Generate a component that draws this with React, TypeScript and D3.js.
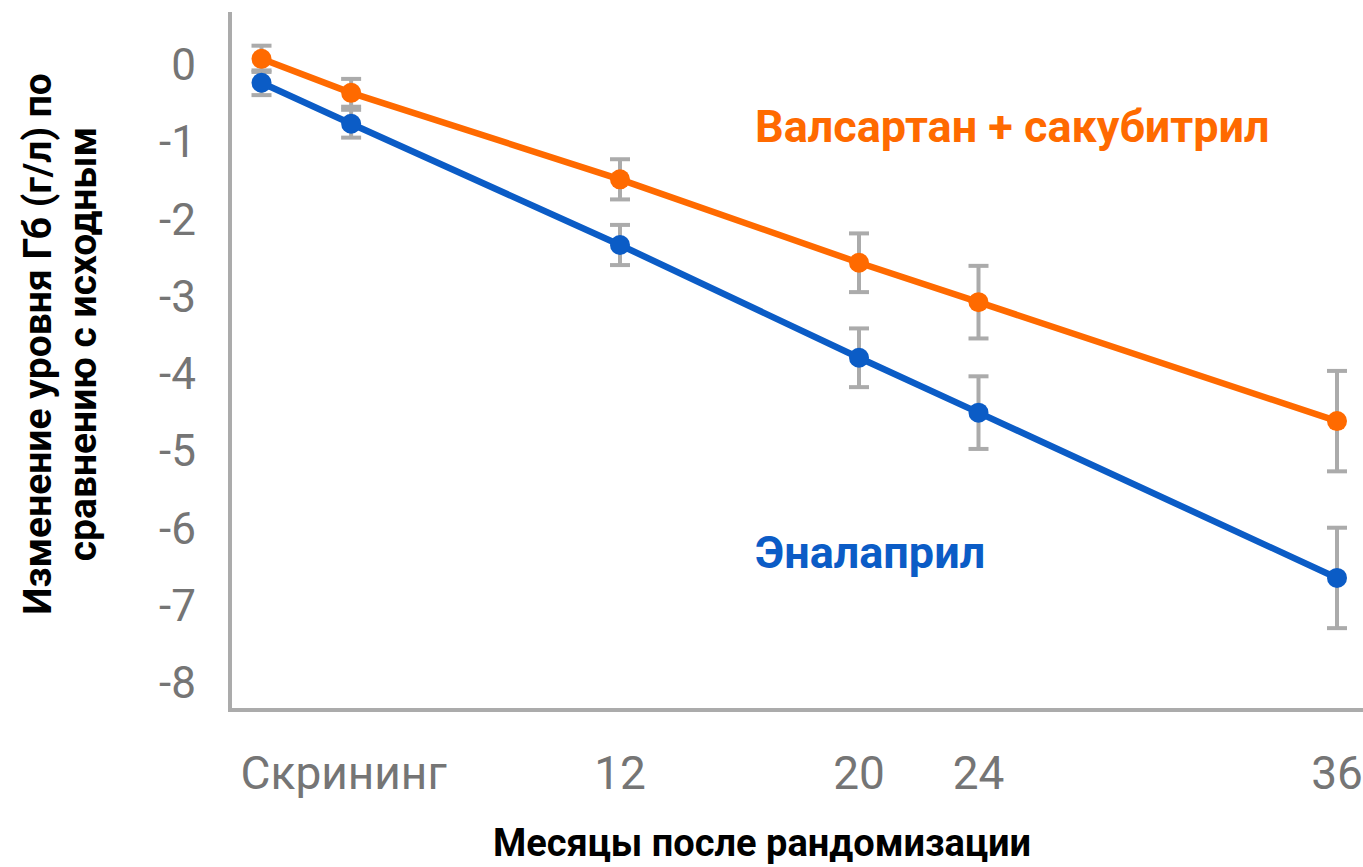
import React from "react";
import * as d3 from "d3";

// months after randomisation for each measurement
const months = [0, 3, 12, 20, 24, 36];

// change in Hb (g/l) vs baseline
const sacubitrilValues = [0.08, -0.36, -1.48, -2.56, -3.07, -4.61];
const sacubitrilErrors = [0.17, 0.18, 0.26, 0.38, 0.47, 0.65];

const enalaprilValues = [-0.23, -0.76, -2.33, -3.79, -4.5, -6.64];
const enalaprilErrors = [0.16, 0.18, 0.26, 0.38, 0.47, 0.65];

const xTickValues = [2.75, 12, 20, 24, 36];
const xTickLabels = ["Скрининг", "12", "20", "24", "36"];
const yTickValues = [0, -1, -2, -3, -4, -5, -6, -7, -8];

const W = 1363;
const H = 867;
const ORANGE = "#ff6a00";
const BLUE = "#0b5cc6";
const GREY = "#ababab";
const FONT = "Roboto, 'Noto Sans', sans-serif";

interface Series {
  name: string;
  color: string;
  values: number[];
  errors: number[];
}

const series: Series[] = [
  { name: "Валсартан + сакубитрил", color: ORANGE, values: sacubitrilValues, errors: sacubitrilErrors },
  { name: "Эналаприл", color: BLUE, values: enalaprilValues, errors: enalaprilErrors },
];

const App: React.FC = () => {
  const x = d3.scaleLinear().domain([0, 36]).range([261.5, 1337]);
  const y = d3.scaleLinear().domain([0, -8]).range([65, 683]);

  const line = d3
    .line<number>()
    .x((_, i) => x(months[i]))
    .y((d) => y(d));

  const axisX = 230;
  const axisY = 710;

  return (
    <div style={{ position: "absolute", left: 0, top: 0 }}>
      <svg width={W} height={H} style={{ display: "block", background: "#fff" }}>
        {/* axes */}
        <line x1={axisX} y1={12} x2={axisX} y2={axisY + 2} stroke={GREY} strokeWidth={4} />
        <line x1={axisX - 2} y1={axisY} x2={W} y2={axisY} stroke={GREY} strokeWidth={4} />

        {/* y tick labels */}
        {yTickValues.map((v) => (
          <text
            key={v}
            x={196}
            y={y(v)}
            textAnchor="end"
            dominantBaseline="central"
            fontFamily={FONT}
            fontSize={44}
            fill="#757575"
          >
            {v}
          </text>
        ))}

        {/* x tick labels */}
        {xTickValues.map((v, i) => (
          <text
            key={i}
            x={x(v)}
            y={789}
            textAnchor="middle"
            fontFamily={FONT}
            fontSize={46}
            fill="#757575"
          >
            {xTickLabels[i]}
          </text>
        ))}

        {/* error bars */}
        {series.map((s) =>
          s.values.map((v, i) => {
            const cx = x(months[i]);
            const top = y(v + s.errors[i]);
            const bot = y(v - s.errors[i]);
            return (
              <g key={s.name + i} stroke={GREY} strokeWidth={4}>
                <line x1={cx} x2={cx} y1={top} y2={bot} />
                <line x1={cx - 10} x2={cx + 10} y1={top} y2={top} />
                <line x1={cx - 10} x2={cx + 10} y1={bot} y2={bot} />
              </g>
            );
          })
        )}

        {/* lines */}
        {series.map((s) => (
          <path key={s.name} d={line(s.values) || ""} fill="none" stroke={s.color} strokeWidth={6.5} />
        ))}

        {/* markers */}
        {series.map((s) =>
          s.values.map((v, i) => (
            <circle key={s.name + "p" + i} cx={x(months[i])} cy={y(v)} r={10} fill={s.color} />
          ))
        )}

        {/* series labels */}
        <text x={755} y={142} fontFamily={FONT} fontSize={45} fontWeight="bold" fill={ORANGE}>
          {series[0].name}
        </text>
        <text x={755} y={568} fontFamily={FONT} fontSize={45} fontWeight="bold" fill={BLUE}>
          {series[1].name}
        </text>

        {/* axis titles */}
        <text
          transform="translate(51,344) rotate(-90)"
          textAnchor="middle"
          fontFamily={FONT}
          fontSize={39}
          fontWeight="bold"
          fill="#000"
        >
          <tspan x={0} dy={0}>Изменение уровня Гб (г/л) по</tspan>
          <tspan x={0} dy={45}>сравнению с исходным</tspan>
        </text>
        <text x={762} y={856} textAnchor="middle" fontFamily={FONT} fontSize={38} fontWeight="bold" fill="#000">
          Месяцы после рандомизации
        </text>
      </svg>
    </div>
  );
};

export default App;
